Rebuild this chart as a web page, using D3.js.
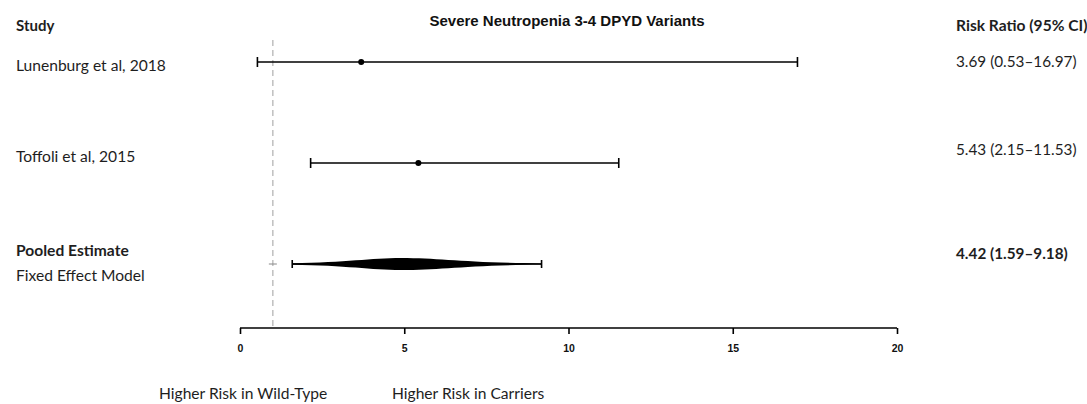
<!DOCTYPE html>
<html><head><meta charset="utf-8">
<script src="https://cdn.jsdelivr.net/npm/d3@7"></script>
<style>body{margin:0;background:#fff}svg{display:block}</style>
</head><body>
<script>
const studies = ["Lunenburg et al, 2018", "Toffoli et al, 2015"];
const estimates = [3.69, 5.43];
const lower = [0.53, 2.15];
const upper = [16.97, 11.53];
const ciLabels = ["3.69 (0.53\u201316.97)", "5.43 (2.15\u201311.53)"];
const pooled = {est: 4.42, lo: 1.59, hi: 9.18, peak: 4.9};
const pooledLabel = "4.42 (1.59\u20139.18)";
const xTicks = [0, 5, 10, 15, 20];
const nullValue = 1;

const W = 1087, H = 404;
const svg = d3.select("body").append("svg").attr("width", W).attr("height", H);
const x = d3.scaleLinear().domain([0, 20]).range([240, 897]);
const rowY = [62, 163];
const pooledY = 264;
const axisY = 328;
const txt = "#1e1e1e";
const sans = "Lato, 'Open Sans', sans-serif";
const fs = 15.6;

// title
svg.append("text").attr("x", 567).attr("y", 26).attr("text-anchor", "middle")
  .attr("font-family", "'Liberation Sans', Arial, sans-serif").attr("font-weight", "bold")
  .attr("font-size", 15).attr("fill", "#111").text("Severe Neutropenia 3-4 DPYD Variants");

// headers
svg.append("text").attr("x", 16).attr("y", 31).attr("font-family", sans).attr("font-weight", "bold")
  .attr("font-size", 15).attr("fill", txt).text("Study");
svg.append("text").attr("x", 956).attr("y", 31).attr("font-family", sans).attr("font-weight", "bold")
  .attr("font-size", 15.6).attr("fill", txt).text("Risk Ratio (95% CI)");

// null line
svg.append("line").attr("x1", x(nullValue)).attr("x2", x(nullValue)).attr("y1", 40).attr("y2", axisY - 2)
  .attr("stroke", "#b0b0b0").attr("stroke-width", 1.2).attr("stroke-dasharray", "6,4");

// study labels
const labY = [71, 162];
const ciY = [67, 155];
studies.forEach((s, i) => {
  svg.append("text").attr("x", 16).attr("y", labY[i]).attr("font-family", sans)
    .attr("font-size", fs).attr("fill", txt).text(s);
  svg.append("text").attr("x", 956).attr("y", ciY[i]).attr("font-family", sans)
    .attr("font-size", 15.3).attr("fill", txt).text(ciLabels[i]);
  const g = svg.append("g");
  g.append("line").attr("x1", x(lower[i])).attr("x2", x(upper[i])).attr("y1", rowY[i]).attr("y2", rowY[i])
    .attr("stroke", "#000").attr("stroke-width", 1.6);
  [lower[i], upper[i]].forEach(v => g.append("line").attr("x1", x(v)).attr("x2", x(v))
    .attr("y1", rowY[i] - 5).attr("y2", rowY[i] + 5).attr("stroke", "#000").attr("stroke-width", 1.6));
  g.append("circle").attr("cx", x(estimates[i])).attr("cy", rowY[i]).attr("r", 3).attr("fill", "#000");
});

// pooled labels
svg.append("text").attr("x", 16).attr("y", 256).attr("font-family", sans).attr("font-weight", "bold")
  .attr("font-size", fs).attr("fill", txt).text("Pooled Estimate");
svg.append("text").attr("x", 16).attr("y", 281).attr("font-family", sans)
  .attr("font-size", fs).attr("fill", txt).text("Fixed Effect Model");
svg.append("text").attr("x", 956).attr("y", 259).attr("font-family", sans).attr("font-weight", "bold")
  .attr("font-size", 15.3).attr("fill", txt).text(pooledLabel);

// small mark at null
svg.append("line").attr("x1", x(nullValue) - 4).attr("x2", x(nullValue) + 4).attr("y1", pooledY).attr("y2", pooledY)
  .attr("stroke", "#888").attr("stroke-width", 1);

// pooled spindle
const xl = x(pooled.lo), xp = x(pooled.peak), xh = x(pooled.hi), hh = 6;
const path = d3.path();
path.moveTo(xl, pooledY - 0.8);
path.bezierCurveTo(xl + (xp - xl) * 0.5, pooledY - 1.5, xp - 30, pooledY - hh, xp, pooledY - hh);
path.bezierCurveTo(xp + 40, pooledY - hh, xp + (xh - xp) * 0.45, pooledY - 1.2, xh, pooledY - 0.6);
path.lineTo(xh, pooledY + 0.6);
path.bezierCurveTo(xp + (xh - xp) * 0.45, pooledY + 1.2, xp + 40, pooledY + hh, xp, pooledY + hh);
path.bezierCurveTo(xp - 30, pooledY + hh, xl + (xp - xl) * 0.5, pooledY + 1.5, xl, pooledY + 0.8);
path.closePath();
svg.append("path").attr("d", path.toString()).attr("fill", "#000");
svg.append("line").attr("x1", xl).attr("x2", xh).attr("y1", pooledY).attr("y2", pooledY)
  .attr("stroke", "#000").attr("stroke-width", 1.5);
[pooled.lo, pooled.hi].forEach(v => svg.append("line").attr("x1", x(v)).attr("x2", x(v))
  .attr("y1", pooledY - 4).attr("y2", pooledY + 4).attr("stroke", "#000").attr("stroke-width", 1.6));

// axis
const axis = d3.axisBottom(x).tickValues(xTicks).tickSize(6).tickSizeOuter(0).tickPadding(11)
  .tickFormat(d3.format("d"));
const ag = svg.append("g").attr("transform", `translate(0,${axisY})`).call(axis);
ag.select(".domain").attr("stroke", "#000").attr("stroke-width", 1.6).attr("d", `M${x(0)},0H${x(20)}`);
ag.selectAll(".tick line").attr("stroke", "#000").attr("stroke-width", 1.6);
ag.selectAll(".tick text").attr("font-family", "'Liberation Sans', Arial, sans-serif")
  .attr("font-weight", "bold").attr("font-size", 10.5).attr("fill", "#111");

// bottom labels
svg.append("text").attr("x", 159).attr("y", 399).attr("font-family", sans)
  .attr("font-size", fs).attr("fill", txt).text("Higher Risk in Wild-Type");
svg.append("text").attr("x", 392).attr("y", 399).attr("font-family", sans)
  .attr("font-size", fs).attr("fill", txt).text("Higher Risk in Carriers");
</script>
</body></html>
